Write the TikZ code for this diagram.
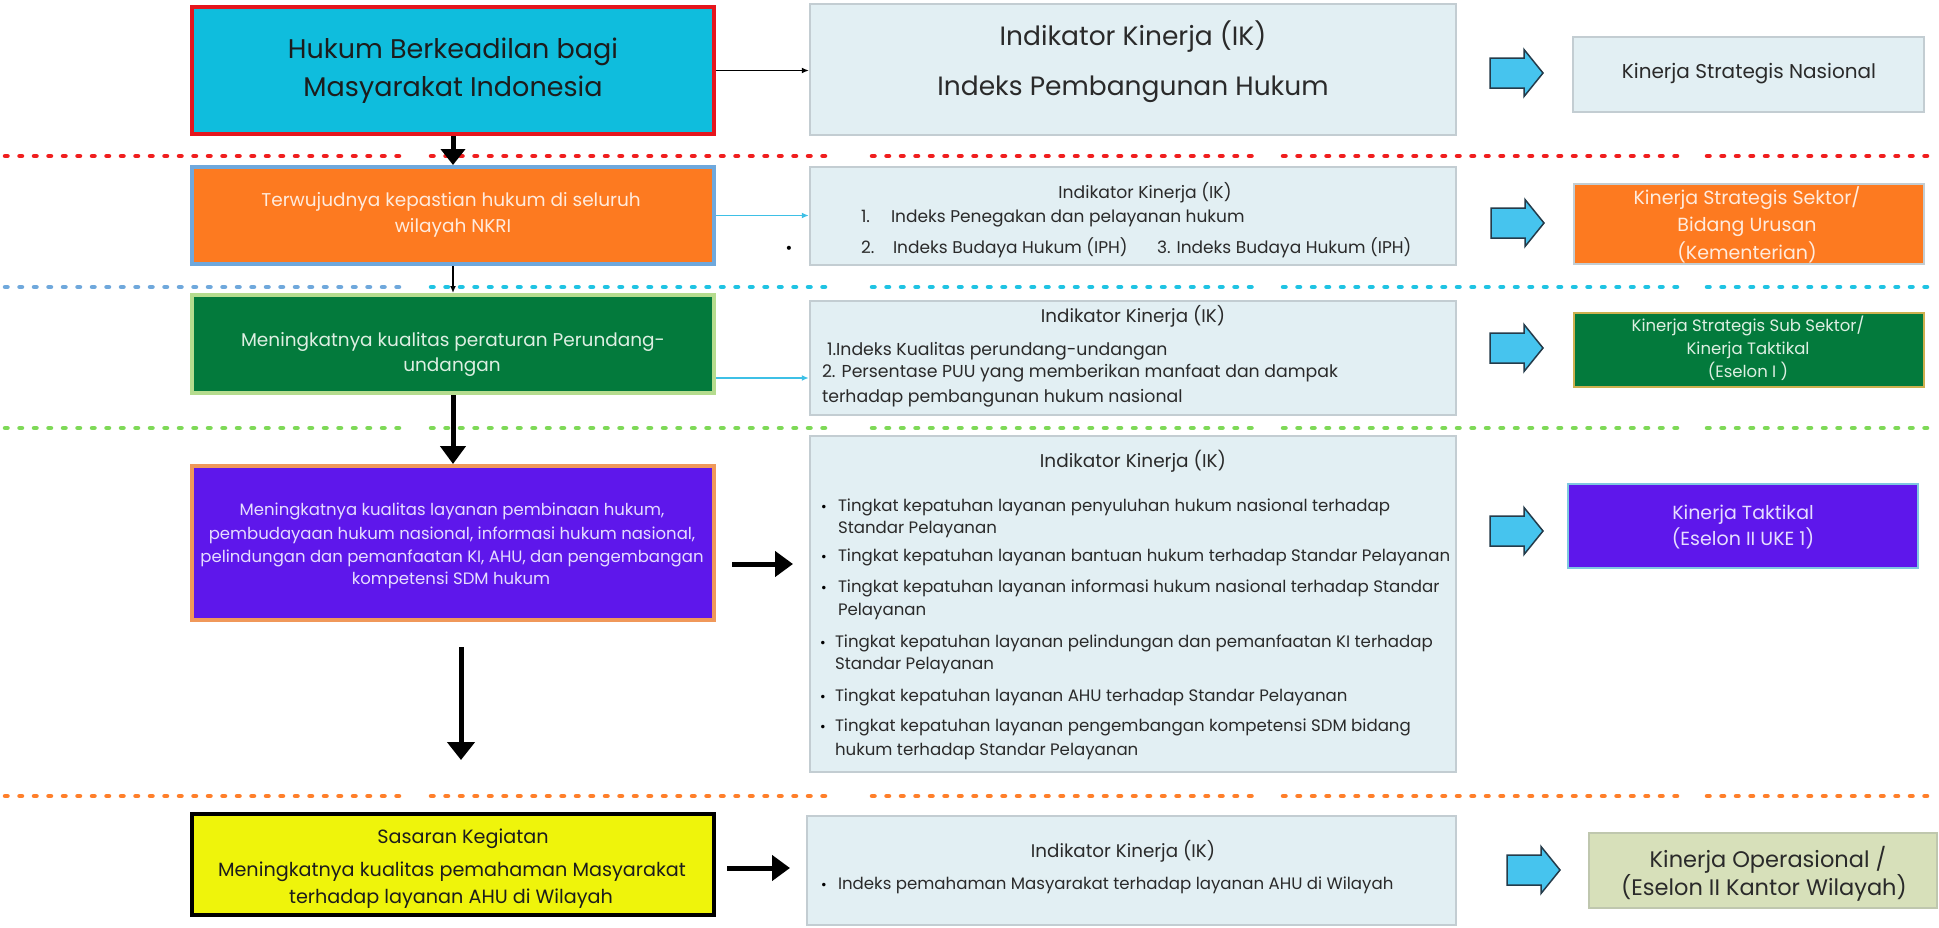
\documentclass[tikz,border=0pt]{standalone}
\usepackage{fontspec}
\setmainfont{Poppins}
\newfontfamily\dejavu{DejaVu Sans}
\usetikzlibrary{arrows.meta}
\definecolor{redB}{HTML}{E5161D}
\definecolor{cyanF}{HTML}{0FBDDD}
\definecolor{ikF}{HTML}{E2EFF3}
\definecolor{ikB}{HTML}{C3CDD2}
\definecolor{orgF}{HTML}{FD7A20}
\definecolor{steel}{HTML}{6FA8DC}
\definecolor{grnF}{HTML}{037A3C}
\definecolor{grnB}{HTML}{B5DC8E}
\definecolor{gold}{HTML}{CDB04F}
\definecolor{purF}{HTML}{5E17EB}
\definecolor{purB}{HTML}{F0985A}
\definecolor{ltblue}{HTML}{7FC7E0}
\definecolor{yelF}{HTML}{EFF40B}
\definecolor{khaki}{HTML}{D7E0BA}
\definecolor{khakiB}{HTML}{BFC7AE}
\definecolor{barF}{HTML}{46C4EE}
\definecolor{barB}{HTML}{243B4A}
\definecolor{lineRed}{HTML}{F01E1E}
\definecolor{lineCyan}{HTML}{1FC3E3}
\definecolor{lineGreen}{HTML}{7ED957}
\definecolor{lineOrange}{HTML}{FF7F2A}
\definecolor{arrCyan}{HTML}{3EC0E6}
\definecolor{darkTxt}{HTML}{1C1C1C}
\definecolor{ikTxt}{HTML}{2A2A2A}
\definecolor{orgTxt}{HTML}{FFEBDD}
\definecolor{grnTxt}{HTML}{DDEFE2}
\definecolor{purTxt}{HTML}{E6DDFF}
\newcommand{\fsz}[1]{\fontsize{#1}{#1}\selectfont}
\newcommand{\barrow}[2]{\filldraw[fill=barF,draw=barB,line width=1.5pt,line join=miter] (#1,#2) ++(0,-15) -- ++(34,0) -- ++(0,-8.5) -- ++(19,23.5) -- ++(-19,23.5) -- ++(0,-8.5) -- ++(-34,0) -- cycle;}
\begin{document}
\begin{tikzpicture}[x=1pt,y=-1pt,
  box/.style={rectangle,inner sep=0pt},
  ikbox/.style={box,fill=ikF,draw=ikB,line width=2.5pt},
  txt/.style={inner sep=0pt,outer sep=0pt,anchor=base},
  txtw/.style={inner sep=0pt,outer sep=0pt,anchor=base west},
  thickarrow/.style={line width=5pt,-{Triangle[width=25pt,length=18pt]}},
  thinarrow/.style={line width=1.5pt,-{Latex[length=7pt,width=6pt]}},
  cyanarrow/.style={line width=1.5pt,arrCyan,-{Latex[length=7pt,width=6pt]}},
  dotline/.style={line width=4.5pt,line cap=round,dash pattern=on 2.5pt off 12pt}
]
\useasboundingbox (0,0) rectangle (1939,927);

% separator lines
\foreach \a/\b in {5/400,431/829,872/1252,1283/1679,1707/1936}{
  \draw[dotline,lineRed] (\a,156) -- (\b,156);
  \draw[dotline,lineGreen] (\a,428) -- (\b,428);
  \draw[dotline,lineOrange] (\a,796) -- (\b,796);
}
\draw[dotline,steel] (5,287) -- (400,287);
\foreach \a/\b in {431/829,872/1252,1283/1679,1707/1936}{
  \draw[dotline,lineCyan] (\a,287) -- (\b,287);
}

% boxes
\node[box,fill=cyanF,draw=redB,line width=4pt,minimum width=522pt,minimum height=127pt] (red) at (453,70.5) {};
\node[ikbox,minimum width=646pt,minimum height=131pt] (ik1) at (1133,69.5) {};
\node[ikbox,minimum width=351pt,minimum height=75pt] (ksn) at (1748.5,74.5) {};

\node[box,fill=orgF,draw=steel,line width=4pt,minimum width=522pt,minimum height=97pt] (org) at (453,215.5) {};
\node[ikbox,minimum width=646pt,minimum height=98pt] (ik2) at (1133,216) {};
\node[box,fill=orgF,draw=ikB,line width=2.5pt,minimum width=350pt,minimum height=80pt] (kss) at (1749,224) {};

\node[box,fill=grnF,draw=grnB,line width=4pt,minimum width=522pt,minimum height=98pt] (grn) at (453,344) {};
\node[ikbox,minimum width=646pt,minimum height=114pt] (ik3) at (1133,358) {};
\node[box,fill=grnF,draw=gold,line width=2.5pt,minimum width=350pt,minimum height=74pt] (kssub) at (1749,350) {};

\node[box,fill=purF,draw=purB,line width=4pt,minimum width=522pt,minimum height=154pt] (pur) at (453,543) {};
\node[ikbox,minimum width=646pt,minimum height=336pt] (ik4) at (1133,604) {};
\node[box,fill=purF,draw=ltblue,line width=2.5pt,minimum width=350pt,minimum height=84pt] (kt) at (1743,526) {};

\node[box,fill=yelF,draw=black,line width=4.5pt,minimum width=522pt,minimum height=101pt] (yel) at (453,864.5) {};
\node[ikbox,minimum width=649pt,minimum height=109pt] (ik5) at (1131.5,870.5) {};
\node[box,fill=khaki,draw=khakiB,line width=2.5pt,minimum width=348pt,minimum height=75pt] (ko) at (1763,870.5) {};

% block arrows
\barrow{1490}{73}
\barrow{1491}{223}
\barrow{1490}{348}
\barrow{1490}{531}
\barrow{1507}{870}

% connectors
\draw[thickarrow,-{Triangle[width=24pt,length=16pt]}] (red.south) -- (org.north);
\draw[thinarrow] (org.south) -- (grn.north);
\draw[thickarrow] (grn.south) -- (pur.north);
\coordinate (la1) at (461,647);
\coordinate (la2) at (461,760);
\draw[thickarrow,-{Triangle[width=27pt,length=18pt]}] (la1) -- (la2);
\coordinate (pa1) at (732,564);
\coordinate (pa2) at (793,564);
\draw[thickarrow] (pa1) -- (pa2);
\coordinate (ya1) at (727,868);
\coordinate (ya2) at (790,868);
\draw[thickarrow] (ya1) -- (ya2);
\draw[line width=1.2pt,-{Latex[length=7pt,width=6pt]}] (red.east) -- (ik1.west |- red.east);
\draw[cyanarrow] (org.east) -- (ik2.west |- org.east);
\draw[cyanarrow] (grn.south east) ++(0,-17) coordinate (g3) -- (ik3.west |- g3);

% texts row 1
\node[txt,text=darkTxt,font=\fsz{27}] (t1a) at (453,58) {Hukum Berkeadilan bagi};
\node[txt,text=darkTxt,font=\fsz{27}] (t1b) at (453,96) {Masyarakat Indonesia};
\node[txt,text=ikTxt,font=\fsz{26.5}] (t2a) at (1133,45) {Indikator Kinerja (IK)};
\node[txt,text=ikTxt,font=\fsz{26.5}] (t2b) at (1133,95) {Indeks Pembangunan Hukum};
\node[txt,text=ikTxt,font=\fsz{20}] (t3) at (1749,78) {Kinerja Strategis Nasional};

% row 2
\node[txt,text=orgTxt,font=\fsz{18.5}] (t4a) at (451,206) {Terwujudnya kepastian hukum di seluruh};
\node[txt,text=orgTxt,font=\fsz{18.5}] (t4b) at (453,232) {wilayah NKRI};
\node[txt,text=ikTxt,font=\fsz{17.2}] (t5a) at (1145,198) {Indikator Kinerja (IK)};
\node[txtw,text=ikTxt,font=\fsz{17}] (t5b) at (861,222) {1.};
\node[txtw,text=ikTxt,font=\fsz{17}] (t5c) at (891,222) {Indeks Penegakan dan pelayanan hukum};
\node[txtw,text=ikTxt,font=\fsz{17}] (t5d) at (861,253) {2.};
\node[txtw,text=ikTxt,font=\fsz{17}] (t5e) at (893,253) {Indeks Budaya Hukum (IPH)};
\node[txtw,text=ikTxt,font=\fsz{17}] (t5f) at (1157,253) {3. Indeks Budaya Hukum (IPH)};
\node[txt,text=black,font=\dejavu\fsz{14}] (dot2) at (789,253) {•};
\node[txt,text=orgTxt,font=\fsz{19}] (t6a) at (1747,204) {Kinerja Strategis Sektor/};
\node[txt,text=orgTxt,font=\fsz{19}] (t6b) at (1747,231) {Bidang Urusan};
\node[txt,text=orgTxt,font=\fsz{19}] (t6c) at (1747,259) {(Kementerian)};

% row 3
\node[txt,text=grnTxt,font=\fsz{18.5}] (t7a) at (453,346) {Meningkatnya kualitas peraturan Perundang-};
\node[txt,text=grnTxt,font=\fsz{18.5}] (t7b) at (452,371) {undangan};
\node[txt,text=ikTxt,font=\fsz{18.3}] (t8a) at (1133,322) {Indikator Kinerja (IK)};
\node[txtw,text=ikTxt,font=\fsz{17.3}] (t8b) at (827,355) {1.Indeks Kualitas perundang-undangan};
\node[txtw,text=ikTxt,font=\fsz{17.3}] (t8c) at (822,377) {2. Persentase PUU yang memberikan manfaat dan dampak};
\node[txtw,text=ikTxt,font=\fsz{17.3}] (t8d) at (822,402) {terhadap pembangunan hukum nasional};
\node[txt,text=grnTxt,font=\fsz{16.5}] (t9a) at (1748,331) {Kinerja Strategis Sub Sektor/};
\node[txt,text=grnTxt,font=\fsz{16.5}] (t9b) at (1748,354) {Kinerja Taktikal};
\node[txt,text=grnTxt,font=\fsz{16.5}] (t9c) at (1748,377) {(Eselon I )};

% row 4
\node[txt,text=purTxt,font=\fsz{16.5}] (t10a) at (452,515) {Meningkatnya kualitas layanan pembinaan hukum,};
\node[txt,text=purTxt,font=\fsz{16.5}] (t10b) at (452,539) {pembudayaan hukum nasional, informasi hukum nasional,};
\node[txt,text=purTxt,font=\fsz{16.5}] (t10c) at (452,562) {pelindungan dan pemanfaatan KI, AHU, dan pengembangan};
\node[txt,text=purTxt,font=\fsz{16.5}] (t10d) at (451,584) {kompetensi SDM hukum};
\node[txt,text=ikTxt,font=\fsz{18.5}] (t11) at (1133,467) {Indikator Kinerja (IK)};
\foreach \n/\y/\bx/\tx/\s in {
  a/511/824/838/{Tingkat kepatuhan layanan penyuluhan hukum nasional terhadap},
  c/561/824/838/{Tingkat kepatuhan layanan bantuan hukum terhadap Standar Pelayanan},
  d/592/824/838/{Tingkat kepatuhan layanan informasi hukum nasional terhadap Standar},
  f/647/823/835/{Tingkat kepatuhan layanan pelindungan dan pemanfaatan KI terhadap},
  h/701/823/835/{Tingkat kepatuhan layanan AHU terhadap Standar Pelayanan},
  i/731/823/835/{Tingkat kepatuhan layanan pengembangan kompetensi SDM bidang}}{
  \node[txt,text=black,font=\dejavu\fsz{12}] (b\n) at (\bx,\y) {•};
  \node[txtw,text=ikTxt,font=\fsz{16.6}] (i\n) at (\tx,\y) {\s};
}
\node[txtw,text=ikTxt,font=\fsz{16.6}] (ib) at (838,533) {Standar Pelayanan};
\node[txtw,text=ikTxt,font=\fsz{16.6}] (ie) at (838,615) {Pelayanan};
\node[txtw,text=ikTxt,font=\fsz{16.6}] (ig) at (835,669) {Standar Pelayanan};
\node[txtw,text=ikTxt,font=\fsz{16.6}] (ij) at (835,755) {hukum terhadap Standar Pelayanan};
\node[txt,text=purTxt,font=\fsz{19}] (t12a) at (1743,519) {Kinerja Taktikal};
\node[txt,text=purTxt,font=\fsz{19}] (t12b) at (1743,545) {(Eselon II UKE 1)};

% row 5
\node[txt,text=darkTxt,font=\fsz{19.2}] (t13a) at (463,843) {Sasaran Kegiatan};
\node[txt,text=darkTxt,font=\fsz{19.2}] (t13b) at (452,876) {Meningkatnya kualitas pemahaman Masyarakat};
\node[txt,text=darkTxt,font=\fsz{19.2}] (t13c) at (451,903) {terhadap layanan AHU di Wilayah};
\node[txt,text=ikTxt,font=\fsz{18.3}] (t14a) at (1123,857) {Indikator Kinerja (IK)};
\node[txt,text=black,font=\dejavu\fsz{12}] (b14) at (824,889) {•};
\node[txtw,text=ikTxt,font=\fsz{16.6}] (t14b) at (838,889) {Indeks pemahaman Masyarakat terhadap layanan AHU di Wilayah};
\node[txt,text=ikTxt,font=\fsz{22.5}] (t15a) at (1768,867) {Kinerja Operasional /};
\node[txt,text=ikTxt,font=\fsz{22.5}] (t15b) at (1764,895) {(Eselon II Kantor Wilayah)};
\end{tikzpicture}
\end{document}
